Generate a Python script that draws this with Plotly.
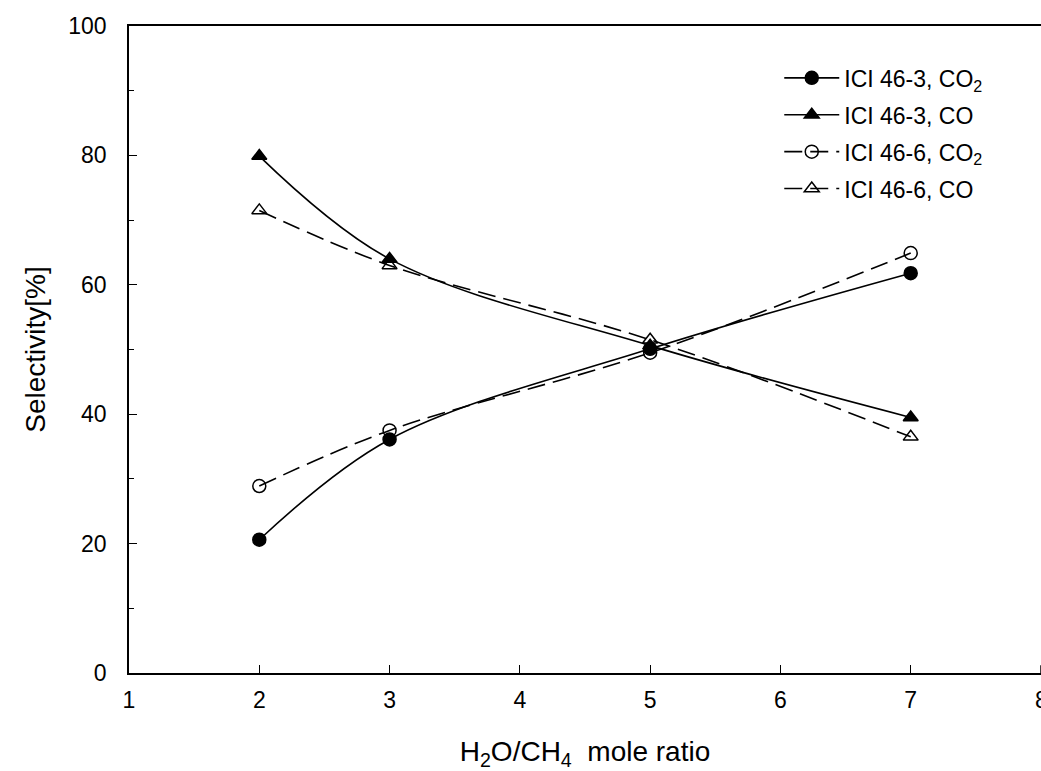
import plotly.graph_objects as go

ratio = [2, 3, 5, 7]
ici463_co2 = [20.6, 36.1, 50.1, 61.8]
ici463_co = [79.9, 64.0, 50.6, 39.5]
ici466_co2 = [28.9, 37.5, 49.5, 64.9]
ici466_co = [71.5, 63.0, 51.5, 36.5]

x_ticks = [1, 2, 3, 4, 5, 6, 7]
y_ticks = [0, 20, 40, 60, 80, 100]

names = ["ICI 46-3, CO<sub>2</sub>", "ICI 46-3, CO", "ICI 46-6, CO<sub>2</sub>", "ICI 46-6, CO"]
series = [ici463_co2, ici463_co, ici466_co2, ici466_co]
symbols = ["circle", "triangle-up", "circle-open", "triangle-up-open"]
dashes = ["solid", "solid", "18px,8px", "18px,8px"]

fig = go.Figure()
for i, (nm, ys, sym, ds) in enumerate(zip(names, series, symbols, dashes)):
    fig.add_trace(go.Scatter(
        x=ratio, y=ys, name=nm, mode="lines+markers",
        line=dict(color="black", width=1.6, dash=ds, shape="spline", smoothing=1.0),
        marker=dict(symbol=sym, size=13, color="black", line=dict(color="black", width=1.5)),
        legendgroup=str(i),
    ))

font = "Liberation Sans, Arial, sans-serif"
fig.update_layout(
    width=1041, height=771,
    margin=dict(l=129, r=0, t=26, b=98),
    paper_bgcolor="white", plot_bgcolor="white",
    font=dict(family=font, color="black", size=23),
    showlegend=True,
    legend=dict(x=0.713, y=0.953, xanchor="left", yanchor="top",
                bgcolor="rgba(0,0,0,0)", font=dict(size=23, family=font),
                traceorder="grouped", tracegroupgap=4, itemwidth=55),
    xaxis=dict(range=[1, 8], tickvals=x_ticks,
               showline=True, linecolor="black", linewidth=1.5, mirror=True,
               ticks="inside", ticklen=8, tickcolor="black", showgrid=False, zeroline=False,
               title=dict(text="H<sub>2</sub>O/CH<sub>4</sub>  mole ratio", font=dict(size=28), standoff=32),
               tickfont=dict(size=23), ticklabelstandoff=6),
    yaxis=dict(range=[0, 100], tickvals=y_ticks,
               showline=True, linecolor="black", linewidth=1.5,
               ticks="inside", ticklen=8, tickcolor="black", showgrid=False, zeroline=False,
               minor=dict(ticks="inside", ticklen=5, dtick=10, tickcolor="black", showgrid=False),
               ticklabelstandoff=16,
               title=dict(text="Selectivity[%]", font=dict(size=28), standoff=14),
               tickfont=dict(size=23)),
)
fig.add_annotation(x=8, y=0, xref="x", yref="y", text="8", showarrow=False,
                   xanchor="center", yanchor="top", yshift=-12, font=dict(size=23))
fig.add_shape(type="line", xref="x", yref="paper", x0=8, x1=8, y0=0, y1=0.012,
              line=dict(color="black", width=1.5))
fig.write_html("out.html")
